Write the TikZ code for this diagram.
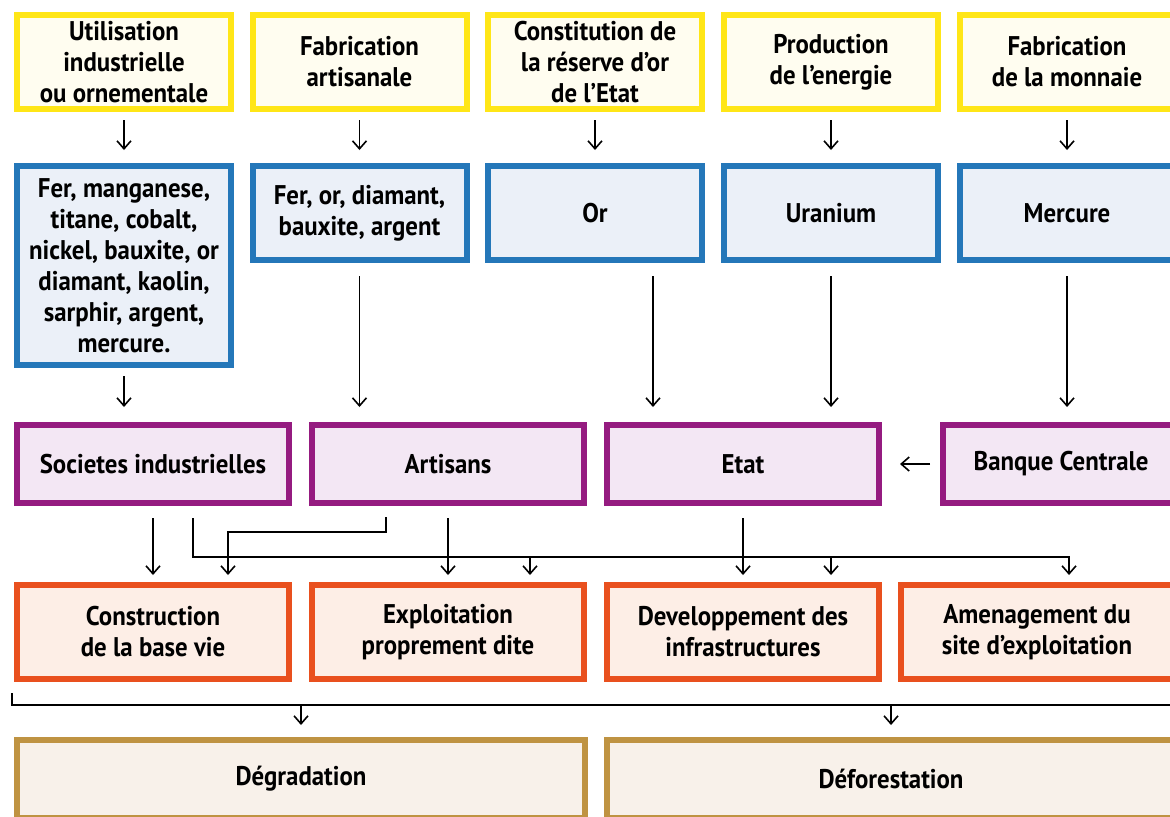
\documentclass[tikz,border=0pt]{standalone}
\usepackage{fontspec}
\setmainfont[FakeStretch=0.92]{PT Sans}
\usetikzlibrary{arrows.meta}
\definecolor{jaune}{HTML}{FFE617}
\definecolor{jaunefond}{HTML}{FFFDF0}
\definecolor{bleu}{HTML}{2477B9}
\definecolor{bleufond}{HTML}{EBF0F8}
\definecolor{violet}{HTML}{951B80}
\definecolor{violetfond}{HTML}{F3E7F4}
\definecolor{orange}{HTML}{E9501E}
\definecolor{orangefond}{HTML}{FDEEE6}
\definecolor{brun}{HTML}{BF9342}
\definecolor{brunfond}{HTML}{F8F1EA}
\tikzset{
  box/.style={draw, line width=3pt, align=center, inner sep=0pt, text=black,
    font=\bfseries\fontsize{13.5}{15.5}\selectfont},
  besoin/.style={box, draw=jaune, fill=jaunefond, minimum width=107pt, minimum height=47pt},
  minerai/.style={box, draw=bleu, fill=bleufond, minimum width=107pt, minimum height=47pt},
  acteur/.style={box, draw=violet, fill=violetfond, minimum width=136pt, minimum height=39pt},
  activite/.style={box, draw=orange, fill=orangefond, minimum width=136pt, minimum height=47pt},
  impact/.style={box, draw=brun, fill=brunfond, minimum width=284pt, minimum height=39pt},
  fl/.style={-{Straight Barb[length=4pt,width=7pt]}, line width=0.8pt},
  trait/.style={line width=0.8pt}
}
\begin{document}
\begin{tikzpicture}[x=0.5pt,y=-0.5pt]
\useasboundingbox (0,0) rectangle (1170,816);
\clip (0,0) rectangle (1170,816);
% besoins
\node[besoin] (u1) at (124,62) {Utilisation\\industrielle\\ou ornementale};
\node[besoin] (u2) at (359.5,62) {Fabrication\\artisanale};
\node[besoin] (u3) at (595,62) {Constitution de\\la réserve d’or\\de l’Etat};
\node[besoin] (u4) at (831,62) {Production\\de l’energie};
\node[besoin] (u5) at (1067,62) {Fabrication\\de la monnaie};
% minerais
\node[minerai, minimum height=99.5pt] (m1) at (124,265.5) {Fer, manganese,\\titane, cobalt,\\nickel, bauxite, or\\diamant, kaolin,\\sarphir, argent,\\mercure.};
\node[minerai] (m2) at (359.5,213) {Fer, or, diamant,\\bauxite, argent};
\node[minerai] (m3) at (595,213) {Or};
\node[minerai] (m4) at (831,213) {Uranium};
\node[minerai] (m5) at (1067,213) {Mercure};
% acteurs
\node[acteur] (soc) at (153,464) {Societes industrielles};
\node[acteur] (art) at (448,464) {Artisans};
\node[acteur] (etat) at (743,464) {Etat};
\node[acteur, minimum width=118pt] (banq) at (1061,464) {Banque Centrale};
% activites
\node[activite] (cons) at (153,632) {Construction\\de la base vie};
\node[activite] (expl) at (448,632) {Exploitation\\proprement dite};
\node[activite] (dev) at (743,632) {Developpement des\\infrastructures};
\node[activite] (amen) at (1037,632) {Amenagement du\\site d’exploitation};
% impacts
\node[impact] (degr) at (301,779) {Dégradation};
\node[impact] (defo) at (891,779) {Déforestation};

% fleches
\foreach \i in {1,...,5}
  \draw[fl, shorten <=4pt, shorten >=6.5pt] (u\i.south) -- (m\i.north);
\draw[fl, shorten <=4pt, shorten >=7.5pt] (m1.south) -- (m1.south |- soc.north);
\draw[fl, shorten <=6.5pt, shorten >=7.5pt] (m2.south) -- (m2.south |- art.north);
\draw[fl, shorten <=6.5pt, shorten >=7.5pt] ([xshift=29pt]m3.south) -- ([xshift=29pt]m3.south |- etat.north);
\draw[fl, shorten <=6.5pt, shorten >=7.5pt] (m4.south) -- (m4.south |- etat.north);
\draw[fl, shorten <=6.5pt, shorten >=7.5pt] (m5.south) -- (m5.south |- banq.north);
\draw[fl, shorten <=5pt, shorten >=9pt] (banq.west) -- (etat.east);

\coordinate (rail) at (0,557);
\coordinate (rail2) at (0,532);
\draw[fl, shorten <=6pt, shorten >=3.5pt] (soc.south) -- (soc.south |- cons.north);
\draw[fl, shorten <=6pt, shorten >=3.5pt] ([xshift=20pt]soc.south) |- ([xshift=16pt]amen.north |- rail) -- ([xshift=16pt]amen.north);
\draw[fl, shorten <=5.5pt, shorten >=3.5pt] ([xshift=-31pt]art.south) -- ([xshift=-31pt]art.south |- rail2) -| ([xshift=37.5pt]cons.north);
\draw[fl, shorten <=6pt, shorten >=3.5pt] (art.south) -- (expl.north);
\draw[fl, shorten <=6pt, shorten >=3.5pt] (etat.south) -- (dev.north);
\draw[fl, shorten >=3.5pt] ([xshift=41pt]expl.north |- rail) -- ([xshift=41pt]expl.north);
\draw[fl, shorten >=3.5pt] ([xshift=44pt]dev.north |- rail) -- ([xshift=44pt]dev.north);

\coordinate (rail3) at (12,705);
\coordinate (rail3e) at (1180,705);
\draw[trait] ([yshift=6pt]rail3) -- (rail3) -- (rail3e);
\draw[fl, shorten >=6pt] (degr.north |- rail3) -- (degr.north);
\draw[fl, shorten >=6pt] (defo.north |- rail3) -- (defo.north);
\end{tikzpicture}
\end{document}
